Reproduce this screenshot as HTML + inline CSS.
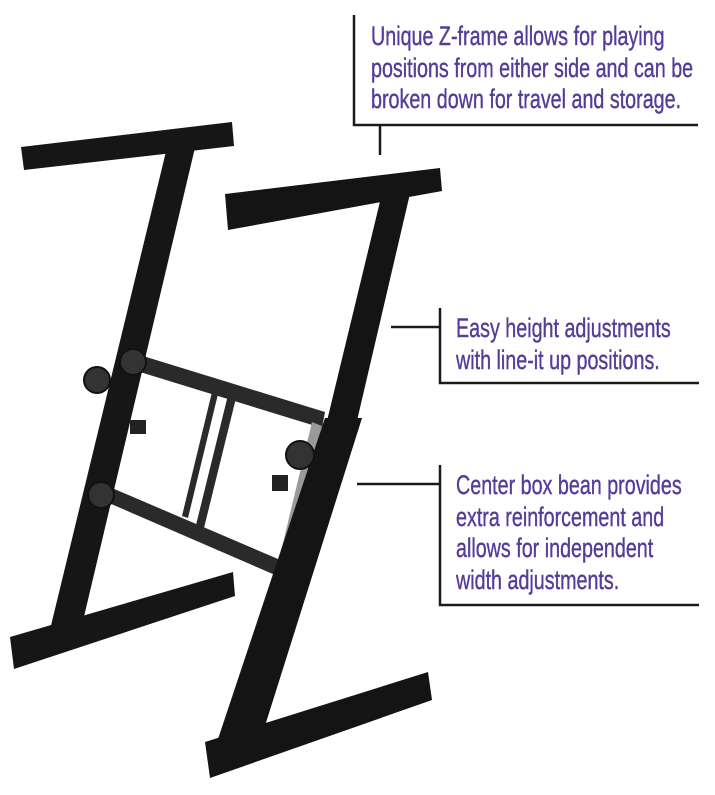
<!DOCTYPE html>
<html><head><meta charset="utf-8"><style>
html,body{margin:0;padding:0;background:#fff;width:715px;height:795px;overflow:hidden}
.t{position:absolute;color:#553c98;font-family:"Liberation Sans",sans-serif;font-size:27px;line-height:31.5px;white-space:nowrap;transform:scaleX(0.73);transform-origin:0 0;-webkit-text-stroke:0.4px #553c98}
</style></head><body>
<svg width="715" height="795" style="position:absolute;left:0;top:0">
<g stroke="#1a1a1a" stroke-width="2.5" fill="none">
<polyline points="354,15 354,125 698,125"/>
<line x1="380" y1="125" x2="380" y2="155"/>
<polyline points="440,308 440,383 699,383"/>
<line x1="391" y1="327" x2="440" y2="327"/>
<polyline points="440,465 440,605 699,605"/>
<line x1="357" y1="484" x2="440" y2="484"/>
</g>
<g fill="#161616">
<polygon points="21,147 232,122 234,146 24,170"/>
<polygon points="170,135 198,135 78,642 47,642"/>
<polygon points="10,637 233,572 235,596 14,669"/>
</g>
<g fill="#2a2a2a">
<polygon points="130,352 325,412 322,428 127,368"/>
<polygon points="105,485 285,562 282,578 102,500"/>
<polygon points="228,395 236,398 204,528 196,525"/>
<polygon points="212,392 218,394 188,518 182,516"/>
</g>
<polygon points="312,422 322,426 285,575 276,572" fill="#9a9a9a"/>
<g fill="#141414">
<polygon points="225,194 440,168 442,191 228,230"/>
<polygon points="384,185 412,185 356,425 326,425"/>
<polygon points="325,418 362,418 258,748 215,748"/>
<polygon points="205,742 428,672 432,700 210,778"/>
</g>
<g fill="#333" stroke="#111" stroke-width="2">
<circle cx="97" cy="380" r="13"/><circle cx="133" cy="362" r="13"/>
<circle cx="101" cy="495" r="13"/><circle cx="300" cy="455" r="14"/>
</g>
<g fill="#222"><rect x="130" y="420" width="16" height="14"/><rect x="272" y="475" width="16" height="16"/></g>
</svg>
<div class="t" style="left:371px;top:21px">Unique Z-frame allows for playing<br>positions from either side and can be<br>broken down for travel and storage.</div>
<div class="t" style="left:456px;top:313px">Easy height adjustments<br>with line-it up positions.</div>
<div class="t" style="left:456px;top:470px">Center box bean provides<br>extra reinforcement and<br>allows for independent<br>width adjustments.</div>
</body></html>
